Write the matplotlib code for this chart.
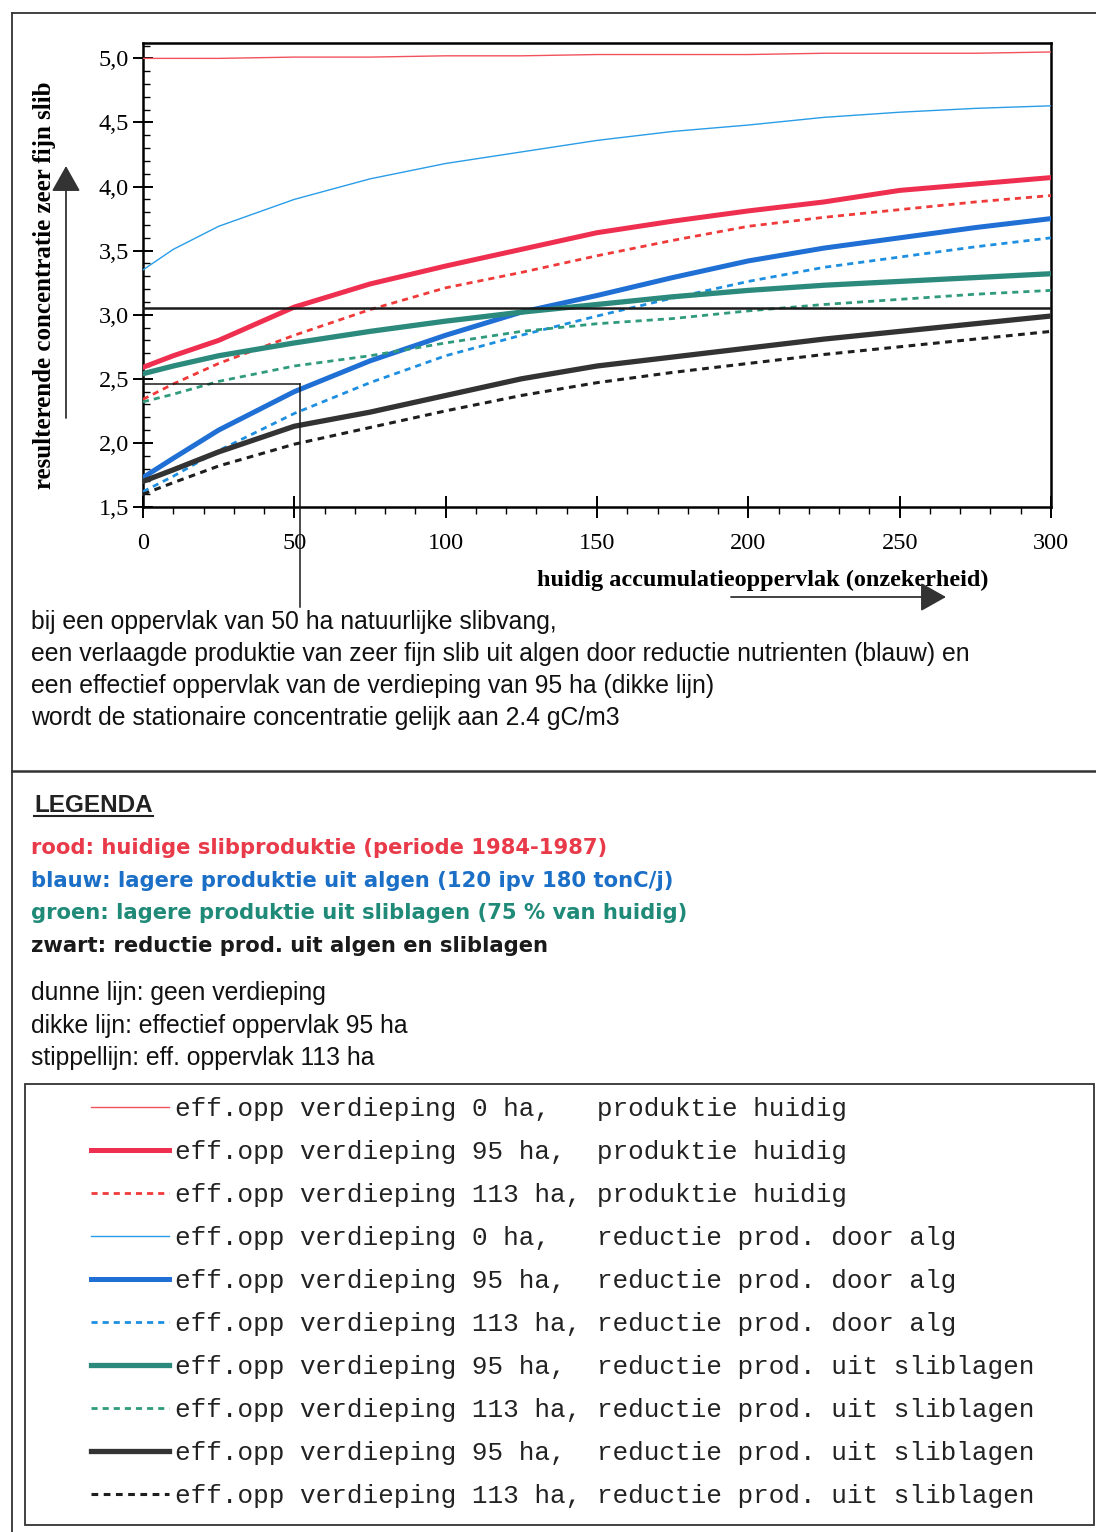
"""Resulterende concentratie zeer fijn slib vs. accumulatieoppervlak."""

import matplotlib

matplotlib.use("Agg")
import matplotlib.pyplot as plt
from matplotlib.patches import Rectangle
from matplotlib.ticker import MultipleLocator, FuncFormatter

# ---- data ----
area = [0, 10, 25, 50, 75, 100, 125, 150, 175, 200, 225, 250, 275, 300]

red_0 = [5.00, 5.00, 5.00, 5.01, 5.01, 5.02, 5.02, 5.03, 5.03, 5.03, 5.04, 5.04, 5.04, 5.05]
red_95 = [2.59, 2.68, 2.80, 3.06, 3.24, 3.38, 3.51, 3.64, 3.73, 3.81, 3.88, 3.97, 4.02, 4.07]
red_113 = [2.34, 2.46, 2.62, 2.84, 3.04, 3.21, 3.33, 3.46, 3.58, 3.69, 3.76, 3.82, 3.88, 3.93]
blue_0 = [3.35, 3.51, 3.69, 3.90, 4.06, 4.18, 4.27, 4.36, 4.43, 4.48, 4.54, 4.58, 4.61, 4.63]
blue_95 = [1.73, 1.88, 2.10, 2.40, 2.64, 2.84, 3.02, 3.15, 3.29, 3.42, 3.52, 3.60, 3.68, 3.75]
blue_113 = [1.62, 1.74, 1.94, 2.23, 2.47, 2.68, 2.84, 2.99, 3.13, 3.26, 3.37, 3.45, 3.53, 3.60]
green_95 = [2.54, 2.60, 2.68, 2.78, 2.87, 2.95, 3.02, 3.08, 3.14, 3.19, 3.23, 3.26, 3.29, 3.32]
green_113 = [2.32, 2.38, 2.48, 2.60, 2.68, 2.78, 2.87, 2.93, 2.97, 3.03, 3.08, 3.12, 3.16, 3.19]
black_95 = [1.70, 1.79, 1.93, 2.13, 2.24, 2.37, 2.50, 2.60, 2.67, 2.74, 2.81, 2.87, 2.93, 2.99]
black_113 = [1.60, 1.69, 1.82, 1.99, 2.12, 2.25, 2.37, 2.47, 2.55, 2.62, 2.69, 2.75, 2.81, 2.87]

level_line = 3.05        # horizontal reference line
read_x, read_y = 52, 2.46  # read-off point (50 ha -> ~2.4)

x_ticks = [0, 50, 100, 150, 200, 250, 300]
y_ticks = [1.5, 2.0, 2.5, 3.0, 3.5, 4.0, 4.5, 5.0]

legend_labels = [
    "eff.opp verdieping 0 ha,   produktie huidig",
    "eff.opp verdieping 95 ha,  produktie huidig",
    "eff.opp verdieping 113 ha, produktie huidig",
    "eff.opp verdieping 0 ha,   reductie prod. door alg",
    "eff.opp verdieping 95 ha,  reductie prod. door alg",
    "eff.opp verdieping 113 ha, reductie prod. door alg",
    "eff.opp verdieping 95 ha,  reductie prod. uit sliblagen",
    "eff.opp verdieping 113 ha, reductie prod. uit sliblagen",
    "eff.opp verdieping 95 ha,  reductie prod. uit sliblagen",
    "eff.opp verdieping 113 ha, reductie prod. uit sliblagen",
]

note_lines = [
    "bij een oppervlak van 50 ha natuurlijke slibvang,",
    "een verlaagde produktie van zeer fijn slib uit algen door reductie nutrienten (blauw) en",
    "een effectief oppervlak van de verdieping van 95 ha (dikke lijn)",
    "wordt de stationaire concentratie gelijk aan 2.4 gC/m3",
]
colour_lines = [
    ("rood: huidige slibproduktie (periode 1984-1987)", "#e93a4a"),
    ("blauw: lagere produktie uit algen (120 ipv 180 tonC/j)", "#1b6fc6"),
    ("groen: lagere produktie uit sliblagen (75 % van huidig)", "#1f8a78"),
    ("zwart: reductie prod. uit algen en sliblagen", "#1a1a1a"),
]
style_lines = [
    "dunne lijn: geen verdieping",
    "dikke lijn: effectief oppervlak 95 ha",
    "stippellijn: eff. oppervlak 113 ha",
]

SERIF = "Liberation Serif"
SANS = "Liberation Sans"
WIDE = "DejaVu Sans"
MONO = "Liberation Mono"
DOTS = (0, (2.2, 1.8))

W, H = 1096, 1532
fig = plt.figure(figsize=(W / 100, H / 100), dpi=100)

# page-sized background axes in pixel coordinates (y down)
bg = fig.add_axes([0, 0, 1, 1], zorder=0)
bg.set_xlim(0, W)
bg.set_ylim(H, 0)
bg.axis("off")

ax = fig.add_axes([143 / W, 1 - 507 / H, 908 / W, 464 / H], zorder=2)
ax.patch.set_alpha(0)

series = [
    (red_0, "#f2525c", 1.0, "-"),
    (red_95, "#ef2f4f", 3.6, "-"),
    (red_113, "#f03a3a", 2.0, DOTS),
    (blue_0, "#2a9de8", 1.0, "-"),
    (blue_95, "#1f6fd4", 3.6, "-"),
    (blue_113, "#1e8fe0", 2.0, DOTS),
    (green_95, "#2b8a7c", 3.8, "-"),
    (green_113, "#2f9a7c", 2.0, DOTS),
    (black_95, "#333333", 3.8, "-"),
    (black_113, "#1e1e1e", 2.2, DOTS),
]
handles = []
for vals, col, lw, ls in series:
    (ln,) = ax.plot(area, vals, color=col, lw=lw, linestyle=ls, zorder=3)
    handles.append(ln)

# reference lines
ax.axhline(level_line, color="#1a1a1a", lw=1.8, zorder=4)
ax.plot([0, read_x], [read_y, read_y], color="#1a1a1a", lw=1.1, zorder=4)
ax.plot([read_x, read_x], [read_y, 0.72], color="#1a1a1a", lw=1.1,
        zorder=4, clip_on=False)

ax.set_xlim(0, 300)
ax.set_ylim(1.5, 5.12)
ax.set_xticks(x_ticks)
ax.set_yticks(y_ticks)
ax.xaxis.set_minor_locator(MultipleLocator(10))
ax.yaxis.set_minor_locator(MultipleLocator(0.1))
ax.yaxis.set_major_formatter(FuncFormatter(lambda v, p: f"{v:.1f}".replace(".", ",")))
ax.tick_params(axis="y", which="major", direction="inout", length=14, width=1.4, pad=3)
ax.tick_params(axis="y", which="minor", direction="in", length=5, width=1.0)
ax.tick_params(axis="x", which="major", direction="inout", length=16, width=1.4, pad=11)
ax.tick_params(axis="x", which="minor", direction="out", length=5, width=1.0)
for lab in ax.get_xticklabels() + ax.get_yticklabels():
    lab.set_fontfamily(SERIF)
    lab.set_fontsize(17.5)
for sp in ax.spines.values():
    sp.set_linewidth(1.8)

# axis titles and arrows
bg.text(45, 285, "resulterende concentratie zeer fijn slib", rotation=90,
        ha="center", va="center", family=SERIF, weight="bold", fontsize=18)
bg.annotate("", xy=(66, 166), xytext=(66, 418),
            arrowprops=dict(arrowstyle="-|>,head_length=0.8,head_width=0.45",
                            mutation_scale=20, color="#333333", lw=1.3,
                            shrinkA=0, shrinkB=0))
bg.text(763, 580, "huidig accumulatieoppervlak (onzekerheid)", ha="center",
        va="center", family=SERIF, weight="bold", fontsize=17.5)
bg.annotate("", xy=(946, 597), xytext=(731, 597),
            arrowprops=dict(arrowstyle="-|>,head_length=0.8,head_width=0.45",
                            mutation_scale=20, color="#333333", lw=1.3,
                            shrinkA=0, shrinkB=0))

# page frame
bg.plot([12, 12], [13, H], color="#333333", lw=1.3)
bg.plot([12, W], [13, 13], color="#333333", lw=1.3)
bg.plot([12, W], [771, 771], color="#333333", lw=1.8)

for i, line in enumerate(note_lines):
    bg.text(31, 622 + i * 32, line, ha="left", va="center", family=SANS,
            fontsize=17.8, color="#111111")

bg.text(34, 805, "LEGENDA", ha="left", va="center", family=SANS,
        weight="bold", fontsize=17.5, color="#222222")
bg.plot([34, 153], [816, 816], color="#222222", lw=1.5)

for i, (line, col) in enumerate(colour_lines):
    bg.text(31, 848 + i * 32.7, line, ha="left", va="center",
            family=WIDE, weight="bold", fontsize=15.2, color=col)

for i, line in enumerate(style_lines):
    bg.text(31, 993 + i * 32.5, line, ha="left", va="center", family=SANS,
            fontsize=17.8, color="#111111")

# legend box with the line samples
bg.add_patch(Rectangle((24.5, 1084), 1069, 441, fill=False,
                       edgecolor="#333333", lw=1.3))
leg = bg.legend(handles, legend_labels, loc="upper left",
                bbox_to_anchor=(91, 1097), bbox_transform=bg.transData,
                frameon=False, prop=dict(family=MONO, size=18.7),
                handlelength=3.0, handletextpad=0.25, labelspacing=0.73,
                borderpad=0, borderaxespad=0)
for t in leg.get_texts():
    t.set_color("#222222")

fig.savefig("out.png", dpi=100)
